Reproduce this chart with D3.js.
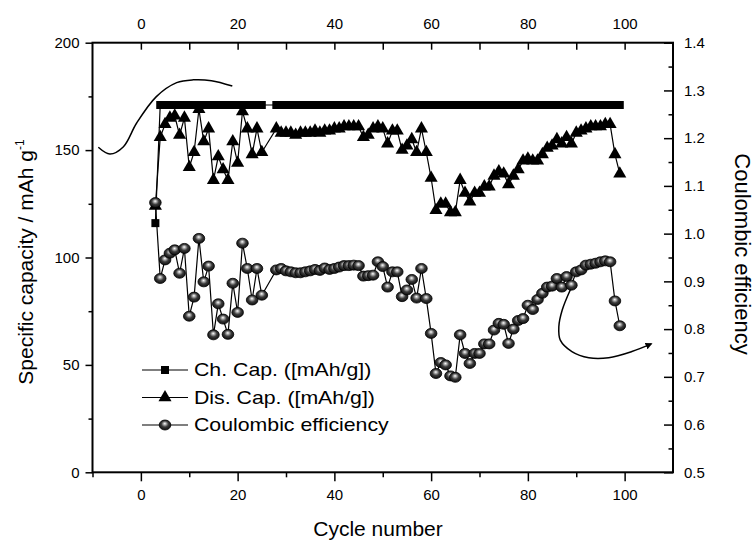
<!DOCTYPE html>
<html>
<head>
<meta charset="utf-8">
<title>Cycling performance</title>
<script src="https://cdn.jsdelivr.net/npm/d3@7"></script>
<style>
  body { margin: 0; background: #fff; }
  text { font-family: "Liberation Sans", Arial, sans-serif; fill: #000; }
  .axis line { stroke: #000; stroke-width: 1.5px; }
  .axis path { display: none; }
  .title { font-size: 21px; }
  .legend text { font-size: 18.5px; }
</style>
</head>
<body>
<script>
// cycle numbers (26 and 27 are not in the record)
var cycles = [3, 4, 5, 6, 7, 8, 9, 10, 11, 12, 13, 14, 15, 16, 17, 18, 19, 20, 21, 22, 23, 24, 25,
  28, 29, 30, 31, 32, 33, 34, 35, 36, 37, 38, 39, 40, 41, 42, 43, 44, 45, 46, 47,
  48, 49, 50, 51, 52, 53, 54, 55, 56, 57, 58, 59, 60, 61, 62, 63, 64, 65, 66, 67,
  68, 69, 70, 71, 72, 73, 74, 75, 76, 77, 78, 79, 80, 81, 82, 83, 84, 85, 86, 87,
  88, 89, 90, 91, 92, 93, 94, 95, 96, 97, 98, 99];

// charge capacity, mAh/g
var chCap = [116, 171, 171, 171, 171, 171, 171, 171, 171, 171, 171, 171, 171, 171, 171, 171, 171, 171, 171, 171, 171, 171, 171,
  171, 171, 171, 171, 171, 171, 171, 171, 171, 171, 171, 171, 171, 171, 171, 171, 171, 171, 171, 171,
  171, 171, 171, 171, 171, 171, 171, 171, 171, 171, 171, 171, 171, 171, 171, 171, 171, 171, 171, 171,
  171, 171, 171, 171, 171, 171, 171, 171, 171, 171, 171, 171, 171, 171, 171, 171, 171, 171, 171, 171,
  171, 171, 171, 171, 171, 171, 171, 171, 171, 171, 171, 171];

// discharge capacity, mAh/g
var disCap = [124, 156, 162, 165, 166, 157, 165, 142, 149, 169, 154, 160, 136, 147, 141, 136, 154, 144, 168, 160, 148, 160, 149,
  160, 158, 158, 158, 157, 158, 158, 158, 159, 158, 159, 159, 160, 160, 161, 161, 161, 161, 156, 157,
  160, 161, 160, 153, 159, 159, 150, 152, 155, 149, 160, 149, 137, 122, 125, 125, 121, 121, 136, 130,
  126, 130, 130, 133, 133, 138, 140, 139, 134, 138, 141, 145, 146, 145, 145, 148, 151, 152, 155, 153,
  156, 153, 158, 159, 160, 161, 161, 161, 162, 162, 148, 139];

// coulombic efficiency
var coulEff = [1.065, 0.906, 0.945, 0.959, 0.966, 0.917, 0.969, 0.827, 0.867, 0.990, 0.899, 0.932, 0.788, 0.853, 0.821, 0.789, 0.896, 0.835, 0.980, 0.927, 0.861, 0.927, 0.871,
  0.924, 0.927, 0.922, 0.920, 0.918, 0.918, 0.920, 0.922, 0.925, 0.923, 0.928, 0.925, 0.927, 0.930, 0.933, 0.933, 0.934, 0.933, 0.911, 0.912,
  0.913, 0.941, 0.931, 0.888, 0.920, 0.920, 0.868, 0.882, 0.904, 0.865, 0.927, 0.864, 0.791, 0.707, 0.730, 0.725, 0.702, 0.699, 0.788, 0.749,
  0.728, 0.749, 0.749, 0.769, 0.769, 0.798, 0.812, 0.810, 0.770, 0.800, 0.818, 0.822, 0.850, 0.841, 0.862, 0.875, 0.888, 0.890, 0.906, 0.888,
  0.910, 0.892, 0.920, 0.924, 0.934, 0.936, 0.938, 0.941, 0.943, 0.941, 0.859, 0.807];

var legendLabels = ["Ch. Cap. ([mAh/g])", "Dis. Cap. ([mAh/g])", "Coulombic efficiency"];

// ticks
var xMajor = [0, 20, 40, 60, 80, 100];
var xMinor = [-10, 10, 30, 50, 70, 90];
var yLeftMajor = [0, 50, 100, 150, 200];
var yLeftMinor = [25, 75, 125, 175];
var yRightMajor = [0.5, 0.6, 0.7, 0.8, 0.9, 1.0, 1.1, 1.2, 1.3, 1.4];
var yRightMinor = [0.55, 0.65, 0.75, 0.85, 0.95, 1.05, 1.15, 1.25, 1.35];

// hand drawn arrows (cycle, axis value)
var arrowLeft = [[-8.8, 151.3], [-6.4, 148.2], [-3.6, 151.6], [-0.9, 162.5], [3.2, 174.9],
  [7.4, 181.4], [10.8, 182.7], [14.6, 182.3], [18.9, 179.8]];
var arrowRight = [[88.8, 0.883], [87.1, 0.84], [86.4, 0.805], [86.7, 0.777], [89.1, 0.753],
  [92.6, 0.74], [96.7, 0.74], [101.5, 0.753], [105.5, 0.769]];

var width = 754, height = 545;
var plotL = 92.5, plotR = 673, plotT = 42.7, plotB = 472.3;

var svg = d3.select("body").append("svg")
  .attr("width", width)
  .attr("height", height);

var defs = svg.append("defs");
var grad = defs.append("radialGradient")
  .attr("id", "ball")
  .attr("cx", "0.5").attr("cy", "0.45").attr("r", "0.6")
  .attr("fx", "0.48").attr("fy", "0.35");
grad.append("stop").attr("offset", "0").attr("stop-color", "#ffffff");
grad.append("stop").attr("offset", "0.18").attr("stop-color", "#b8b8b8");
grad.append("stop").attr("offset", "0.5").attr("stop-color", "#3c3c3c");
grad.append("stop").attr("offset", "1").attr("stop-color", "#050505");

defs.append("marker")
  .attr("id", "head")
  .attr("viewBox", "0 0 10 10")
  .attr("refX", 8).attr("refY", 5)
  .attr("markerWidth", 7).attr("markerHeight", 7)
  .attr("markerUnits", "userSpaceOnUse")
  .attr("orient", "auto")
  .append("path")
  .attr("d", "M0,0L10,5L0,10z")
  .attr("fill", "#000");

var xScale = d3.scaleLinear().domain([-10, 110]).range([plotL, plotR]);
var yLeft = d3.scaleLinear().domain([0, 200]).range([plotB, plotT]);
var yRight = d3.scaleLinear().domain([0.5, 1.4]).range([plotB, plotT]);

function styleAxis(g) {
  g.selectAll("text")
    .attr("font-size", 15)
    .attr("font-family", "'Liberation Sans', Arial, sans-serif")
    .attr("fill", "#000");
}

// axes
svg.append("g").attr("class", "axis")
  .attr("transform", "translate(0," + plotB + ")")
  .call(d3.axisBottom(xScale).tickValues(xMajor).tickSizeInner(9).tickSizeOuter(0).tickPadding(8).tickFormat(d3.format("d")))
  .call(styleAxis);
svg.append("g").attr("class", "axis")
  .attr("transform", "translate(0," + plotB + ")")
  .call(d3.axisBottom(xScale).tickValues(xMinor).tickSizeInner(5).tickSizeOuter(0).tickFormat(""));

svg.append("g").attr("class", "axis")
  .attr("transform", "translate(0," + plotT + ")")
  .call(d3.axisTop(xScale).tickValues(xMajor).tickSizeInner(-7).tickSizeOuter(0).tickPadding(14).tickFormat(d3.format("d")))
  .call(styleAxis);
svg.append("g").attr("class", "axis")
  .attr("transform", "translate(0," + plotT + ")")
  .call(d3.axisTop(xScale).tickValues(xMinor.slice(1)).tickSizeInner(-7).tickSizeOuter(0).tickFormat(""));

svg.append("g").attr("class", "axis")
  .attr("transform", "translate(" + plotL + ",0)")
  .call(d3.axisLeft(yLeft).tickValues(yLeftMajor).tickSizeInner(7).tickSizeOuter(0).tickPadding(6))
  .call(styleAxis);
svg.append("g").attr("class", "axis")
  .attr("transform", "translate(" + plotL + ",0)")
  .call(d3.axisLeft(yLeft).tickValues(yLeftMinor).tickSizeInner(4).tickSizeOuter(0).tickFormat(""));

svg.append("g").attr("class", "axis")
  .attr("transform", "translate(" + plotR + ",0)")
  .call(d3.axisRight(yRight).tickValues(yRightMajor).tickSizeInner(-9).tickSizeOuter(0).tickPadding(11).tickFormat(d3.format(".1f")))
  .call(styleAxis);
svg.append("g").attr("class", "axis")
  .attr("transform", "translate(" + plotR + ",0)")
  .call(d3.axisRight(yRight).tickValues(yRightMinor).tickSizeInner(-4.5).tickSizeOuter(0).tickFormat(""));

svg.append("rect")
  .attr("x", plotL).attr("y", plotT)
  .attr("width", plotR - plotL).attr("height", plotB - plotT)
  .attr("fill", "none")
  .attr("stroke", "#000")
  .attr("stroke-width", 2);

// titles
svg.append("text").attr("class", "title")
  .attr("x", 378).attr("y", 536)
  .attr("text-anchor", "middle")
  .text("Cycle number");

var yt = svg.append("text").attr("class", "title")
  .attr("transform", "translate(33,262) rotate(-90)")
  .attr("text-anchor", "middle");
yt.append("tspan").text("Specific capacity / mAh g");
yt.append("tspan").attr("font-size", "12px").attr("dy", -9).text("-1");

svg.append("text").attr("class", "title")
  .attr("transform", "translate(735,254) rotate(90)")
  .attr("text-anchor", "middle")
  .attr("font-size", 22)
  .style("font-size", "22px")
  .text("Coulombic efficiency");

// series
var rows = cycles.map(function(c, i) {
  return { c: c, ch: chCap[i], dis: disCap[i], ce: coulEff[i] };
});

function seriesLine(key, scale) {
  return d3.line()
    .x(function(d) { return xScale(d.c); })
    .y(function(d) { return scale(d[key]); });
}

var sq = d3.symbol().type(d3.symbolSquare).size(64);
var tri = d3.symbol().type(d3.symbolTriangle).size(74);

svg.append("path").datum(rows)
  .attr("d", seriesLine("ch", yLeft))
  .attr("fill", "none").attr("stroke", "#000").attr("stroke-width", 1.2);
svg.append("g").selectAll("path")
  .data(rows).enter().append("path")
  .attr("d", sq)
  .attr("transform", function(d) { return "translate(" + xScale(d.c) + "," + yLeft(d.ch) + ")"; })
  .attr("fill", "#000");

svg.append("path").datum(rows)
  .attr("d", seriesLine("dis", yLeft))
  .attr("fill", "none").attr("stroke", "#000").attr("stroke-width", 1.2);
svg.append("g").selectAll("path")
  .data(rows).enter().append("path")
  .attr("d", tri)
  .attr("transform", function(d) { return "translate(" + xScale(d.c) + "," + yLeft(d.dis) + ")"; })
  .attr("fill", "#000");

svg.append("path").datum(rows)
  .attr("d", seriesLine("ce", yRight))
  .attr("fill", "none").attr("stroke", "#000").attr("stroke-width", 1.2);
svg.append("g").selectAll("ellipse")
  .data(rows).enter().append("ellipse")
  .attr("cx", function(d) { return xScale(d.c); })
  .attr("cy", function(d) { return yRight(d.ce); })
  .attr("rx", 5.8).attr("ry", 5)
  .attr("fill", "url(#ball)")
  .attr("stroke", "#000").attr("stroke-width", 0.8);

// arrows
var curve = d3.line().curve(d3.curveCatmullRom);
svg.append("path")
  .attr("d", curve(arrowLeft.map(function(p) { return [xScale(p[0]), yLeft(p[1])]; })))
  .attr("fill", "none").attr("stroke", "#000").attr("stroke-width", 1.5);
svg.append("path")
  .attr("d", curve(arrowRight.map(function(p) { return [xScale(p[0]), yRight(p[1])]; })))
  .attr("fill", "none").attr("stroke", "#000").attr("stroke-width", 1.5)
  .attr("marker-end", "url(#head)");

// legend
var legend = svg.append("g").attr("class", "legend");
var legendY = [370, 397.5, 425];
legendLabels.forEach(function(label, i) {
  var g = legend.append("g").attr("transform", "translate(0," + legendY[i] + ")");
  g.append("line").attr("x1", 142).attr("x2", 188).attr("y1", 0).attr("y2", 0)
    .attr("stroke", "#000").attr("stroke-width", 1.2);
  if (i === 0) {
    g.append("path").attr("d", sq).attr("transform", "translate(165,0)").attr("fill", "#000");
  } else if (i === 1) {
    g.append("path").attr("d", tri).attr("transform", "translate(165,0)").attr("fill", "#000");
  } else {
    g.append("ellipse").attr("cx", 165).attr("cy", 0).attr("rx", 5.8).attr("ry", 5)
      .attr("fill", "url(#ball)").attr("stroke", "#000").attr("stroke-width", 0.8);
  }
  var t = g.append("text").attr("x", 194).attr("y", 0).attr("dy", "0.35em").text(label);
  var w = t.node().getComputedTextLength();
  t.attr("textLength", w * 1.15).attr("lengthAdjust", "spacingAndGlyphs");
});
</script>
</body>
</html>
